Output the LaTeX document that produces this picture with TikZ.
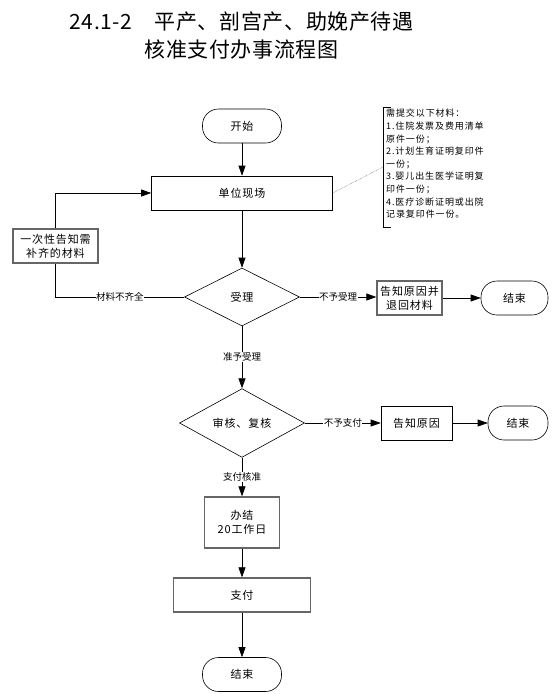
\documentclass[tikz,border=0pt]{standalone}
\usepackage{fontspec}
\setmainfont{Noto Sans CJK SC}
\usepackage{tikz}
\usetikzlibrary{shapes.geometric, arrows.meta, positioning, calc}

\begin{document}
\begin{tikzpicture}[x=1pt, y=-1pt,
    box/.style={draw, line width=0.6pt, align=center, inner sep=0pt, font=\fontsize{11}{14}\selectfont\addfontfeature{LetterSpace=8}},
    graybox/.style={box, draw=black!60, line width=1.3pt},
    terminal/.style={box, rounded corners=16pt, minimum height=34pt},
    decision/.style={draw, line width=0.6pt, diamond, inner sep=0pt, font=\fontsize{11}{14}\selectfont\addfontfeature{LetterSpace=8}},
    lbl/.style={fill=white, inner sep=0.5pt, font=\fontsize{9.5}{11}\selectfont},
    arr/.style={-{Triangle[length=10pt, width=7pt]}, line width=0.6pt}]
  \useasboundingbox (0,0) rectangle (555,694);

  % Title
  \node[font=\fontsize{21}{24}\selectfont\addfontfeature{LetterSpace=3}] (title1) at (241.5, 22) {24.1-2　平产、剖宫产、助娩产待遇};
  \node[font=\fontsize{21}{24}\selectfont\addfontfeature{LetterSpace=3}] (title2) at (241.5, 50) {核准支付办事流程图};

  % Main column
  \node[terminal, minimum width=79pt] (start) at (242, 126) {开始};
  \node[box, minimum width=181pt, minimum height=34pt] (unit) at (242, 193) {单位现场};
  \node[decision, minimum width=115pt, minimum height=58pt] (accept) at (242, 297) {受理};
  \node[decision, minimum width=125pt, minimum height=60pt] (review) at (242, 423) {审核、复核};
  \node[graybox, minimum width=75pt, minimum height=51pt] (finish) at (242, 522.5) {办结\\20工作日};
  \node[graybox, minimum width=137pt, minimum height=34pt] (pay) at (242, 595) {支付};
  \node[terminal, minimum width=79pt] (end3) at (242, 674.5) {结束};

  % Side branches
  \node[graybox, minimum width=85pt, minimum height=34pt] (notice) at (55.5, 246) {一次性告知需\\补齐的材料};
  \node[graybox, minimum width=65pt, minimum height=34pt] (refuse) at (409.5, 298) {告知原因并\\退回材料};
  \node[terminal, minimum width=67pt] (end1) at (514.5, 298) {结束};
  \node[box, minimum width=71pt, minimum height=34pt] (reason) at (416.5, 423) {告知原因};
  \node[terminal, minimum width=60pt] (end2) at (518, 423) {结束};

  % Note
  \node[anchor=north west, inner sep=0pt, align=left, font=\fontsize{9}{12.6}\selectfont\addfontfeature{LetterSpace=10}] (note) at (386, 109) {%
    需提交以下材料：\\
    1.住院发票及费用清单\\
    原件一份；\\
    2.计划生育证明复印件\\
    一份；\\
    3.婴儿出生医学证明复\\
    印件一份；\\
    4.医疗诊断证明或出院\\
    记录复印件一份。};
  \coordinate (brtop) at (383, 107);
  \coordinate (brbot) at (383, 227);
  \coordinate (brmid) at (383, 167);
  \draw[line width=0.6pt] ($(brtop)+(8,0)$) -- (brtop) -- (brbot) -- ($(brbot)+(8,0)$);
  \draw[densely dotted, black!85] (unit.east) -- (brmid);

  % Main arrows
  \draw[arr] (start) -- (unit);
  \draw[arr] (unit) -- (accept);
  \draw[arr] (accept) -- node[lbl] {准予受理} (review);
  \draw[arr] (review) -- node[lbl] {支付核准} (finish);
  \draw[arr] (finish) -- (pay);
  \draw[arr] (pay) -- (end3);

  % Branch arrows
  \draw[arr] (accept.east) -- node[lbl] {不予受理} (refuse.west |- accept.east);
  \draw[arr] (refuse) -- (end1);
  \draw[arr] (review.east) -- node[lbl] {不予支付} (reason);
  \draw[arr] (reason) -- (end2);

  % Loop back
  \draw[line width=0.6pt] (accept.west) -- node[lbl] {材料不齐全} (accept.west -| notice.south) -- (notice.south);
  \draw[arr] (notice.north) |- (unit.west);
\end{tikzpicture}
\end{document}
